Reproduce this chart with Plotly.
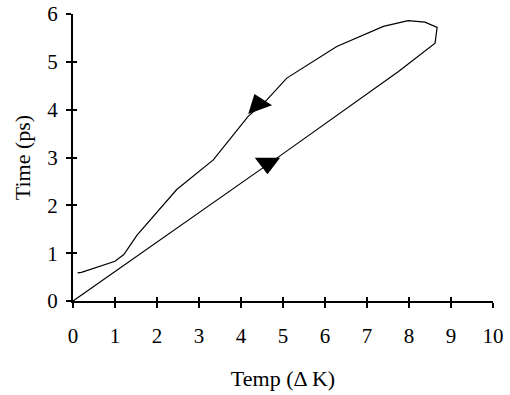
import plotly.graph_objects as go

# Loop data (Temp in ΔK, Time in ps)
loop_temp = [0.11, 0.2, 1.0, 1.21, 1.52, 2.27, 2.47, 3.34, 4.17, 4.61, 5.09, 6.28,
             7.39, 7.98, 8.38, 8.67, 8.62, 7.75, 4.97, 0.0]
loop_time = [0.59, 0.6, 0.83, 0.97, 1.37, 2.12, 2.33, 2.95, 3.86, 4.2, 4.66, 5.32,
             5.74, 5.86, 5.83, 5.72, 5.39, 4.8, 3.06, 0.0]

# Direction arrows
arrow_temp = [4.41, 4.63]
arrow_time = [4.11, 2.88]
arrow_symbols = ["triangle-up", "triangle-down"]
arrow_angles = [-20, 0]

x_ticks = list(range(0, 11))
y_ticks = list(range(0, 7))

FONT = "Liberation Serif"

fig = go.Figure()
fig.add_trace(go.Scatter(x=loop_temp, y=loop_time, mode="lines",
                         line=dict(color="black", width=1.2), showlegend=False,
                         hoverinfo="skip"))
fig.add_trace(go.Scatter(x=arrow_temp, y=arrow_time, mode="markers",
                         marker=dict(symbol=arrow_symbols, angle=arrow_angles, size=22,
                                     color="black", line=dict(width=0)),
                         showlegend=False, hoverinfo="skip"))
# invisible trace on helper axes so the inner half of each tick renders
fig.add_trace(go.Scatter(x=[0], y=[0], xaxis="x2", yaxis="y2", mode="markers",
                         marker=dict(opacity=0), showlegend=False, hoverinfo="skip"))

fig.update_layout(
    width=510, height=395,
    margin=dict(l=73, r=17, t=14, b=94),
    paper_bgcolor="white", plot_bgcolor="white",
    font=dict(family=FONT, size=21, color="black"),
    xaxis=dict(range=[0, 10], tickvals=x_ticks, showgrid=False, zeroline=False,
               showline=True, linecolor="black", linewidth=2,
               ticks="outside", ticklen=5, tickwidth=2, tickcolor="black",
               ticklabelstandoff=10,
               tickfont=dict(family=FONT, size=21, color="black"), automargin=False,
               title=dict(text="Temp (\u0394 K)", font=dict(family=FONT, size=22, color="black"),
                          standoff=23)),
    yaxis=dict(range=[0, 6], tickvals=y_ticks, showgrid=False, zeroline=False,
               showline=True, linecolor="black", linewidth=2,
               ticks="outside", ticklen=5, tickwidth=2, tickcolor="black",
               ticklabelstandoff=4,
               tickfont=dict(family=FONT, size=21, color="black"), automargin=False,
               title=dict(text="Time (ps)", font=dict(family=FONT, size=22, color="black"),
                          standoff=11)),
    xaxis2=dict(range=[0, 10], tickvals=x_ticks, overlaying="x", anchor="y",
                side="bottom", showticklabels=False, showgrid=False, zeroline=False,
                showline=False, ticks="inside", ticklen=4, tickwidth=2, tickcolor="black"),
    yaxis2=dict(range=[0, 6], tickvals=y_ticks, overlaying="y", anchor="x",
                side="left", showticklabels=False, showgrid=False, zeroline=False,
                showline=False, ticks="inside", ticklen=4, tickwidth=2, tickcolor="black"),
)

# remove the browser's default 8px body margin so the figure fills the window
fig.write_html("out.html", config={"displayModeBar": False},
               post_script="document.body.style.margin='0';")
